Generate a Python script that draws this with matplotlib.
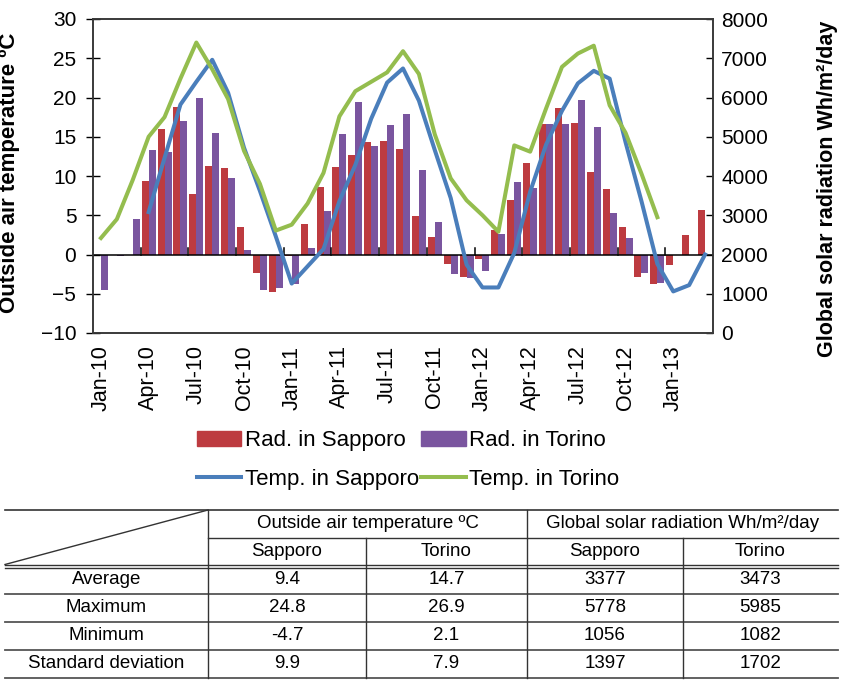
import numpy as np
import matplotlib
matplotlib.use('Agg')
import matplotlib.pyplot as plt
from matplotlib.patches import Patch
from matplotlib.lines import Line2D

plt.rcParams['font.family'] = ['Liberation Sans', 'DejaVu Sans']

nan = np.nan
# 39 monthly categories Jan-10 .. Mar-13
month_names = ['Jan', 'Feb', 'Mar', 'Apr', 'May', 'Jun', 'Jul', 'Aug', 'Sep', 'Oct', 'Nov', 'Dec']
months = [f'{m}-{y}' for y in ['10', '11', '12', '13'] for m in month_names][:39]
tick_labels = months[::3]

rad_sapporo = [nan, nan, nan, 3880, 5195, 5760, 3540, 4245, 4195, 2695, 1525, 1056, 1950,
               2780, 3712, 4220, 4534, 4856, 4881, 4686, 2975, 2450, 1746, 1424, 1890,
               2630, 3390, 4330, 5320, 5740, 5340, 4110, 3660, 2695, 1424, 1254, 1720,
               2500, 3136]
rad_torino = [1085, 1950, 2907, 4661, 4600, 5390, 5985, 5085, 3949, 2102, 1102, 1153, 1240,
              2169, 3100, 5068, 5873, 4771, 5305, 5570, 4161, 2839, 1492, 1390, 1580,
              2530, 3840, 3700, 5330, 5320, 5932, 5240, 3070, 2420, 1534, 1272, nan,
              nan, nan]
temp_sapporo = [nan, nan, nan, 5.4, 12.3, 19.1, 22.0, 24.8, 20.6, 13.6, 8.1, 2.3, -3.7,
                -1.5, 0.7, 6.8, 11.4, 17.3, 21.9, 23.7, 19.6, 13.3, 7.2, -1.3, -4.2,
                -4.2, 0.2, 8.0, 14.0, 18.3, 21.8, 23.4, 22.4, 14.3, 6.8, -1.2, -4.7,
                -3.9, 0.0]
temp_torino = [2.1, 4.5, 9.5, 15.0, 17.5, 22.4, 27.0, 23.6, 19.8, 13.2, 9.0, 3.05, 3.8,
               6.5, 10.4, 17.6, 20.8, 22.0, 23.2, 25.9, 23.0, 15.3, 9.7, 6.9, 5.0,
               2.9, 13.9, 13.1, 18.6, 23.9, 25.6, 26.6, 19.0, 15.5, 10.3, 4.75, nan,
               nan, nan]

series_names = ['Rad. in Sapporo', 'Rad. in Torino', 'Temp. in Sapporo', 'Temp. in Torino']
colors = ['#BD3B40', '#7A559F', '#4A7EBB', '#94BD4E']

# table content
tbl_group_headers = ['Outside air temperature ºC', 'Global solar radiation Wh/m²/day']
tbl_sub_headers = ['Sapporo', 'Torino', 'Sapporo', 'Torino']
tbl_row_labels = ['Average', 'Maximum', 'Minimum', 'Standard deviation']
tbl_temp_sapporo = ['9.4', '24.8', '-4.7', '9.9']
tbl_temp_torino = ['14.7', '26.9', '2.1', '7.9']
tbl_rad_sapporo = ['3377', '5778', '1056', '1397']
tbl_rad_torino = ['3473', '5985', '1082', '1702']

W, H = 843, 680
fig = plt.figure(figsize=(W / 100, H / 100), dpi=100)
ax = fig.add_axes([93 / W, 1 - 333 / H, 620 / W, 314 / H])
ax2 = ax.twinx()
ax.set_zorder(ax2.get_zorder() + 1)
ax.patch.set_visible(False)

x = np.arange(len(months))
base = 2000  # radiation value at which temperature axis is 0
rs = np.array(rad_sapporo, dtype=float)
rt = np.array(rad_torino, dtype=float)
ms = ~np.isnan(rs)
mt = ~np.isnan(rt)
bw = 0.44
ax2.bar(x[ms] - bw / 2, rs[ms] - base, width=bw, bottom=base, color=colors[0], linewidth=0)
ax2.bar(x[mt] + bw / 2, rt[mt] - base, width=bw, bottom=base, color=colors[1], linewidth=0)

ax.axhline(0, color='black', lw=1.1, zorder=2)
# category-axis tick marks on the zero line
for b in np.arange(2.5, 37, 3):
    ax.plot([b, b], [0, 0.8], color='black', lw=1.1, zorder=2)

ax.plot(x, temp_sapporo, color=colors[2], lw=2.9, zorder=3, solid_joinstyle='round')
ax.plot(x, temp_torino, color=colors[3], lw=2.9, zorder=3, solid_joinstyle='round')

ax.set_xlim(-0.5, len(months) - 0.5)
ax.set_ylim(-10, 30)
ax2.set_ylim(0, 8000)
ax.set_yticks(np.arange(-10, 31, 5))
ax2.set_yticks(np.arange(0, 8001, 1000))
ax.set_xticks(x[::3])
ax.set_xticklabels(tick_labels, rotation=90, fontsize=15.5)
ax.tick_params(axis='x', length=0, pad=9)
ax.tick_params(axis='y', direction='inout', length=10, width=1, labelsize=15, pad=7)
ax2.tick_params(axis='y', direction='in', length=5, width=1, labelsize=15, pad=6)

for a in (ax, ax2):
    for s in a.spines.values():
        s.set_color('#3a3a3a')
        s.set_linewidth(1.2)

ax.set_ylabel('Outside air temperature ºC', fontsize=16, fontweight='bold')
ax.yaxis.set_label_coords(-0.117, 0.51)
ax2.set_ylabel('Global solar radiation Wh/m²/day', fontsize=15.5, fontweight='bold', rotation=90)
ax2.yaxis.set_label_coords(1.168, 0.46)

handles = [Patch(color=colors[0]), Line2D([], [], color=colors[2], lw=2.9),
           Patch(color=colors[1]), Line2D([], [], color=colors[3], lw=2.9)]
labels = [series_names[0], series_names[2], series_names[1], series_names[3]]
fig.legend(handles, labels, ncol=2, loc='center', bbox_to_anchor=(408 / W, 1 - 460 / H),
           frameon=False, fontsize=16, handlelength=2.0, handleheight=0.7,
           handletextpad=0.15, columnspacing=0.1, labelspacing=0.8)

# ---- table ----
tax = fig.add_axes([0, 0, 1, 1])
tax.set_xlim(0, W)
tax.set_ylim(H, 0)
tax.axis('off')
lc = '#333333'
xl, xc1, xc2, xc3, xc4, xr = 5, 208, 366, 527, 683, 838
ytop, yh1, yh2 = 510, 538, 566
row_h = 28
tax.plot([xl, xr], [ytop, ytop], color=lc, lw=1.2)
tax.plot([xc1, xr], [yh1, yh1], color=lc, lw=1.0)
tax.plot([xl, xr], [yh2 - 1.5, yh2 - 1.5], color=lc, lw=1.0)
tax.plot([xl, xr], [yh2 + 1.5, yh2 + 1.5], color=lc, lw=1.0)
for k in range(1, 5):
    yy = yh2 + k * row_h
    tax.plot([xl, xr], [yy, yy], color='#555555', lw=1.3)
ybot = yh2 + 4 * row_h
for xv in (xc1, xc3):
    tax.plot([xv, xv], [ytop, ybot], color=lc, lw=1.0)
for xv in (xc2, xc4):
    tax.plot([xv, xv], [yh1, ybot], color=lc, lw=1.0)
tax.plot([xl, xc1], [yh2 - 1.5, ytop], color=lc, lw=1.0)

fs = 13.5
tax.text((xc1 + xc3) / 2, (ytop + yh1) / 2, tbl_group_headers[0], ha='center', va='center', fontsize=fs)
tax.text((xc3 + xr) / 2, (ytop + yh1) / 2, tbl_group_headers[1], ha='center', va='center', fontsize=fs)
col_centers = [(xc1 + xc2) / 2, (xc2 + xc3) / 2, (xc3 + xc4) / 2, (xc4 + xr) / 2]
for cx, t in zip(col_centers, tbl_sub_headers):
    tax.text(cx, (yh1 + yh2) / 2, t, ha='center', va='center', fontsize=fs)
cols = [tbl_temp_sapporo, tbl_temp_torino, tbl_rad_sapporo, tbl_rad_torino]
for r, lab in enumerate(tbl_row_labels):
    yc = yh2 + (r + 0.5) * row_h
    tax.text((xl + xc1) / 2, yc, lab, ha='center', va='center', fontsize=fs)
    for cx, col in zip(col_centers, cols):
        tax.text(cx, yc, col[r], ha='center', va='center', fontsize=fs)

fig.savefig('out.png', dpi=100)
